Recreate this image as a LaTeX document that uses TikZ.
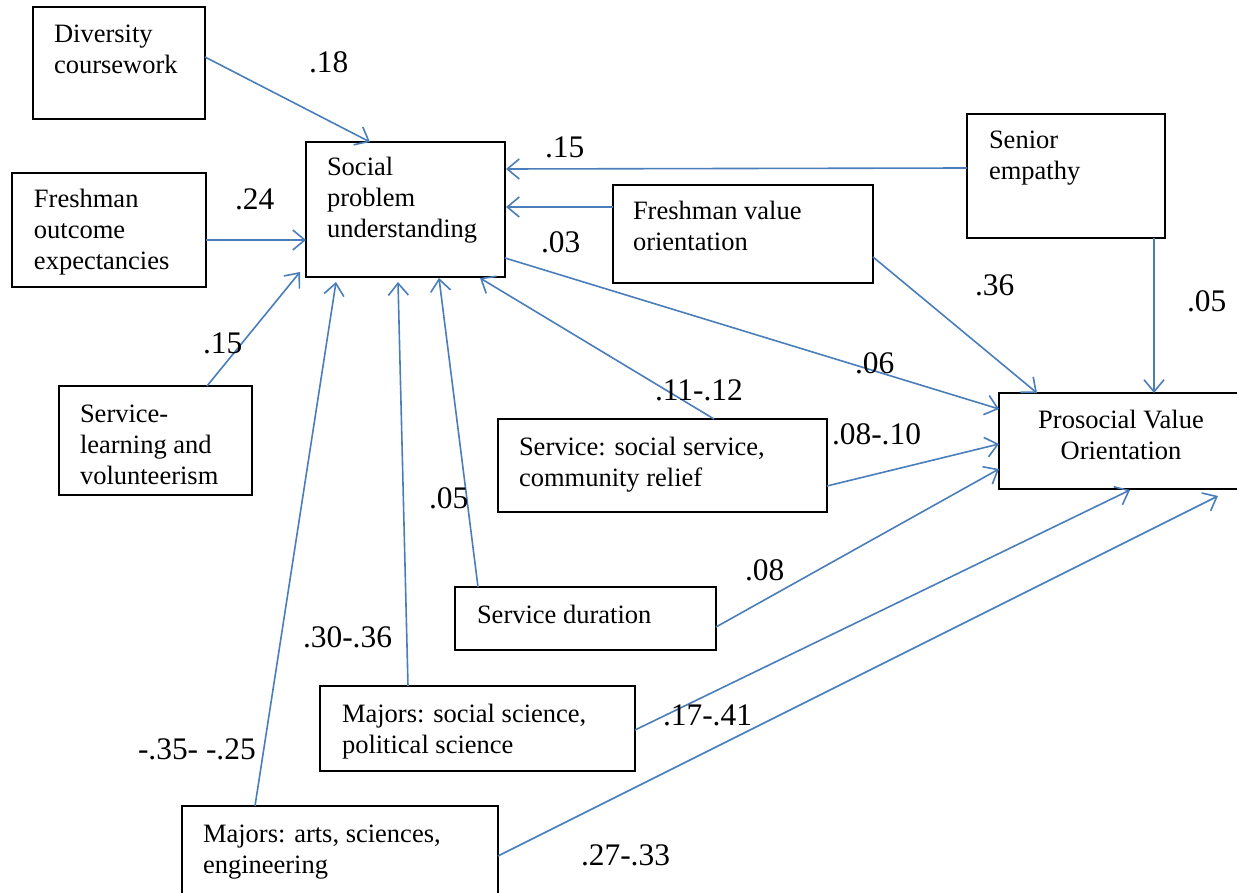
\documentclass[tikz,border=0pt]{standalone}
\usepackage{fontspec}
\setmainfont{Liberation Serif}
\usetikzlibrary{arrows.meta}
\definecolor{linkblue}{HTML}{4A7EBB}
\newcommand\stacklines[2][l]{\begin{tabular}[t]{@{}#1@{}}#2\end{tabular}}
\tikzset{
  frame/.style={draw=black, line width=2pt, anchor=north west,
    inner sep=0pt, outer sep=0pt},
  boxtext/.style={anchor=base west, inner sep=0pt, outer sep=0pt,
    font=\fontsize{26.5}{31}\selectfont},
  coef/.style={anchor=base west, inner sep=0pt, outer sep=0pt,
    font=\fontsize{31.4}{36}\selectfont},
  link/.style={draw=linkblue, line width=1.6pt,
    -{Straight Barb[length=12pt,width=20pt,line width=1.6pt]}},
}
\begin{document}
\begin{tikzpicture}[x=1pt,y=-1pt]
\fill[white] (0,0) rectangle (1237,893);
\useasboundingbox (0,0) rectangle (1237,893);

% boxes
\node[frame, minimum width=172pt, minimum height=112pt] (dc)  at (33,7)   {};
\node[frame, minimum width=199pt, minimum height=135pt] (spu) at (306,142) {};
\node[frame, minimum width=194pt, minimum height=114pt] (fo)  at (12,173)  {};
\node[frame, minimum width=193pt, minimum height=109pt] (sl)  at (59,386)  {};
\node[frame, minimum width=198pt, minimum height=124pt] (se)  at (967,114) {};
\node[frame, minimum width=260pt, minimum height=98pt]  (fv)  at (613,185) {};
\node[frame, minimum width=244pt, minimum height=96pt]  (pv)  at (999,393) {};
\node[frame, minimum width=329pt, minimum height=93pt]  (ss)  at (498,419) {};
\node[frame, minimum width=261pt, minimum height=63pt]  (sd)  at (455,587) {};
\node[frame, minimum width=315pt, minimum height=85pt]  (ms)  at (320,686) {};
\node[frame, minimum width=316pt, minimum height=92pt]  (ma)  at (182,806) {};

% box texts
\node[boxtext] (dc-t)  at (54,43)   {\stacklines{Diversity\\coursework}};
\node[boxtext] (spu-t) at (327,176) {\stacklines{Social\\problem\\understanding}};
\node[boxtext] (fo-t)  at (34,208)  {\stacklines{Freshman\\outcome\\expectancies}};
\node[boxtext] (sl-t)  at (80,422)  {\stacklines{Service-\\learning and\\volunteerism}};
\node[boxtext] (se-t)  at (989,149) {\stacklines{Senior\\empathy}};
\node[boxtext] (fv-t)  at (633,220) {\stacklines{Freshman value\\orientation}};
\node[boxtext, anchor=base] (pv-t) at (1121,428) {\stacklines[c]{Prosocial Value\\Orientation}};
\node[boxtext] (ss-t)  at (519,455) {\stacklines{Service: social service,\\community relief}};
\node[boxtext] (sd-t)  at (477,623) {Service duration};
\node[boxtext] (ms-t)  at (342,722) {\stacklines{Majors: social science,\\political science}};
\node[boxtext] (ma-t)  at (203,842) {\stacklines{Majors: arts, sciences,\\engineering}};

% paths into social problem understanding
\draw[link] ([yshift=-50pt]dc.north east) -- ([xshift=64pt]spu.north west);
\draw[link] ([yshift=-67pt]fo.north east) -- ([yshift=-98pt]spu.north west);
\draw[link] ([xshift=148pt]sl.north west) -- ([xshift=-6pt,yshift=5pt]spu.south west);
\draw[link] ([xshift=73pt]ma.north west) -- ([xshift=30pt,yshift=-5pt]spu.south west);
\draw[link] ([xshift=88pt]ms.north west) -- ([xshift=92pt,yshift=-5pt]spu.south west);
\draw[link] ([xshift=23pt]sd.north west) -- ([xshift=133pt,yshift=-1pt]spu.south west);
\draw[link] ([xshift=216pt]ss.north west) -- ([xshift=174pt,yshift=-1pt]spu.south west);
\draw[link] ([yshift=-22pt]fv.north west) -- ([xshift=1pt,yshift=-65pt]spu.north east);
\draw[link] ([yshift=-54pt]se.north west) -- ([xshift=1pt,yshift=-27pt]spu.north east);

% paths into prosocial value orientation
\draw[link] ([yshift=-116pt]spu.north east) -- ([yshift=-16pt]pv.north west);
\draw[link] ([yshift=-72pt]fv.north east) -- ([xshift=38pt]pv.north west);
\draw[link] ([xshift=187pt]se.south west) -- ([xshift=155pt]pv.north west);
\draw[link] ([yshift=-67pt]ss.north east) -- ([yshift=-51pt]pv.north west);
\draw[link] ([yshift=-40pt]sd.north east) -- ([yshift=-76pt]pv.north west);
\draw[link] ([yshift=-44pt]ms.north east) -- ([xshift=131pt,yshift=-1pt]pv.south west);
\draw[link] ([yshift=-50pt]ma.north east) -- ([xshift=219pt,yshift=-7pt]pv.south west);

% path coefficients
\node[coef] (c1)  at (309,73)  {.18};
\node[coef] (c2)  at (235,210) {.24};
\node[coef] (c3)  at (203,353) {.15};
\node[coef] (c4)  at (545,158) {.15};
\node[coef] (c5)  at (541,253) {.03};
\node[coef] (c6)  at (975,296) {.36};
\node[coef] (c7)  at (1187,312) {.05};
\node[coef] (c8)  at (855,373) {.06};
\node[coef] (c9)  at (655,400) {.11-.12};
\node[coef] (c10) at (832,444) {.08-.10};
\node[coef] (c11) at (429,508) {.05};
\node[coef] (c12) at (745,580) {.08};
\node[coef] (c13) at (303,647) {.30-.36};
\node[coef] (c14) at (663,725) {.17-.41};
\node[coef] (c15) at (138,759) {-.35- -.25};
\node[coef] (c16) at (581,865) {.27-.33};
\end{tikzpicture}
\end{document}
